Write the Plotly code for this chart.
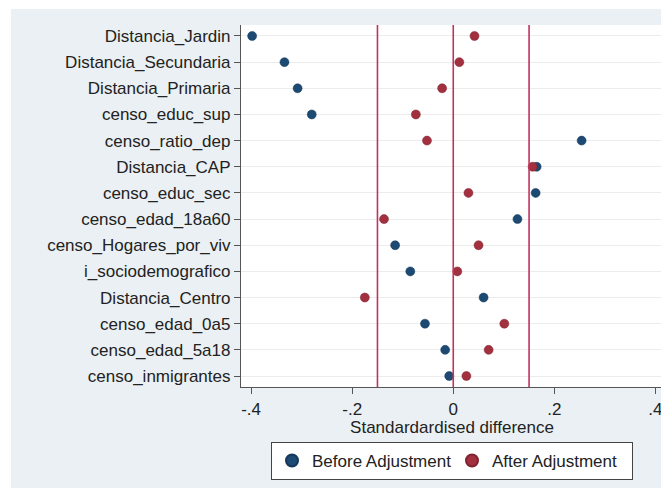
import plotly.graph_objects as go

variables = ["Distancia_Jardin", "Distancia_Secundaria", "Distancia_Primaria",
             "censo_educ_sup", "censo_ratio_dep", "Distancia_CAP", "censo_educ_sec",
             "censo_edad_18a60", "censo_Hogares_por_viv", "i_sociodemografico",
             "Distancia_Centro", "censo_edad_0a5", "censo_edad_5a18", "censo_inmigrantes"]
before_adj = [-0.398, -0.334, -0.308, -0.280, 0.254, 0.165, 0.163,
              0.127, -0.115, -0.085, 0.060, -0.056, -0.016, -0.008]
after_adj = [0.042, 0.012, -0.022, -0.074, -0.052, 0.157, 0.030,
             -0.137, 0.050, 0.008, -0.175, 0.101, 0.070, 0.026]
ref_lines = [-0.15, 0.0, 0.15]
x_ticks = [-0.4, -0.2, 0.0, 0.2, 0.4]
x_tick_labels = ["-.4", "-.2", "0", ".2", ".4"]

# The page places the figure at an 8px offset (body margin).
OFF = 8
W, H = 669 - OFF, 488 - OFF
ML, MR, MT, MB = 241 - OFF, 6, 25 - OFF, 101
pw, ph = W - ML - MR, H - MT - MB

def px_x(p):  # page pixel -> paper coordinate
    return (p - OFF - ML) / pw

def px_y(p):
    return (H - MB - (p - OFF)) / ph

BG = "#eaf0f3"
font = "Liberation Sans, Arial, sans-serif"
FS = 17

fig = go.Figure()
fig.add_trace(go.Scatter(
    x=before_adj, y=variables, mode="markers", name="Before Adjustment",
    marker=dict(color="#1d4a72", size=9, line=dict(color="#15385a", width=0.5))))
fig.add_trace(go.Scatter(
    x=after_adj, y=variables, mode="markers", name="After Adjustment",
    marker=dict(color="#a2303f", size=9, line=dict(color="#7f2330", width=0.5))))

shapes = [
    # white margins at left and top of the outer graph region
    dict(type="rect", xref="paper", yref="paper", x0=px_x(0), x1=px_x(11),
         y0=px_y(0), y1=px_y(500), fillcolor="white", line=dict(width=0), layer="below"),
    dict(type="rect", xref="paper", yref="paper", x0=px_x(0), x1=px_x(680),
         y0=px_y(0), y1=px_y(9), fillcolor="white", line=dict(width=0), layer="below"),
]
for v in ref_lines:
    shapes.append(dict(type="line", xref="x", yref="paper", x0=v, x1=v, y0=0, y1=1,
                       line=dict(color="#c2325c", width=1.6), layer="above"))

fig.update_layout(
    width=W, height=H,
    margin=dict(l=ML, r=MR, t=MT, b=MB, autoexpand=False),
    paper_bgcolor=BG,
    plot_bgcolor="white",
    font=dict(family=font, size=FS, color="#222222"),
    shapes=shapes,
    showlegend=True,
    legend=dict(orientation="h", x=0.5, xanchor="center", y=px_y(442), yanchor="top",
                bgcolor="white", bordercolor="#444444", borderwidth=1,
                font=dict(size=FS, color="#222222"), entrywidth=135,
                itemsizing="constant"),
    xaxis=dict(range=[-0.42, 0.415], tickvals=x_ticks, ticktext=x_tick_labels,
               showgrid=False, zeroline=False, showline=True, linecolor="#555555",
               linewidth=1.2, ticks="outside", ticklen=6, tickcolor="#555555",
               automargin=False,
               tickfont=dict(size=FS), title=dict(text="Standardardised difference",
               font=dict(size=FS), standoff=2)),
    yaxis=dict(categoryorder="array", categoryarray=variables,
               range=[13.42, -0.42], showgrid=True, gridcolor="#ececec", gridwidth=1,
               zeroline=False, showline=True, linecolor="#555555", linewidth=1.2,
               ticks="outside", ticklen=6, tickcolor="#555555", automargin=False,
               tickfont=dict(size=FS)),
)

fig.write_html("out.html")
